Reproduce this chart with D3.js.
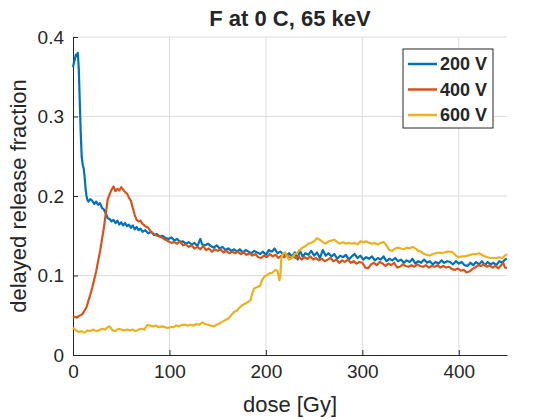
<!DOCTYPE html>
<html>
<head>
<meta charset="utf-8">
<title>F at 0 C, 65 keV</title>
<script src="https://cdn.jsdelivr.net/npm/d3@7"></script>
<style>
  body { margin: 0; background: #fff; }
  svg text { font-family: "Liberation Sans", Arial, Helvetica, sans-serif; fill: #262626; }
</style>
</head>
<body>
<div id="chart"></div>
<script>
// data (dose in Gy, fraction)
var seriesNames = ["200 V", "400 V", "600 V"];
var seriesColors = ["#0072BD", "#D95319", "#EDB120"];

var dose200 = [0,1,2,3,4,5,6,7,8,9,10,11,12,13,14,15,16,18,20,22,24,26,28,30,32,34,36,38,40,42,44,46,48,50,52,54,56,58,60,62,64,66,68,70,72,75,78,81,84,87,90,93,96,99,102,105,108,111,114,117,120,123,126,129,132,134,137,140,143,146,149,152,155,158,161,164,167,170,173,176,179,182,185,188,191,194,197,200,203,206,209,212,215,218,221,224,227,230,233,235,238,241,244,247,250,253,256,259,262,265,268,271,274,277,280,283,286,289,292,295,298,301,304,307,310,313,316,319,322,325,328,331,334,337,340,343,346,349,352,355,358,361,364,367,370,373,376,379,382,385,388,391,394,397,400,403,406,409,412,415,418,421,424,427,430,433,436,439,442,445,448,450];
var frac200 = [0.362,0.368,0.372,0.378,0.376,0.380,0.360,0.320,0.280,0.250,0.240,0.235,0.225,0.210,0.200,0.195,0.193,0.196,0.194,0.190,0.193,0.189,0.191,0.185,0.183,0.178,0.172,0.171,0.168,0.170,0.166,0.169,0.164,0.167,0.163,0.166,0.162,0.164,0.160,0.163,0.158,0.161,0.157,0.159,0.155,0.157,0.153,0.155,0.151,0.152,0.149,0.150,0.147,0.146,0.148,0.144,0.146,0.142,0.143,0.140,0.142,0.139,0.141,0.137,0.146,0.139,0.138,0.140,0.137,0.135,0.138,0.134,0.136,0.132,0.134,0.131,0.133,0.130,0.133,0.129,0.132,0.130,0.128,0.131,0.129,0.127,0.130,0.126,0.132,0.130,0.134,0.128,0.130,0.127,0.125,0.128,0.124,0.129,0.120,0.132,0.124,0.128,0.126,0.131,0.125,0.129,0.122,0.132,0.125,0.128,0.124,0.127,0.121,0.125,0.123,0.126,0.120,0.124,0.127,0.122,0.125,0.120,0.123,0.121,0.124,0.119,0.122,0.120,0.124,0.118,0.121,0.119,0.122,0.118,0.120,0.116,0.119,0.117,0.121,0.115,0.118,0.116,0.120,0.116,0.118,0.114,0.117,0.115,0.119,0.116,0.118,0.117,0.114,0.118,0.115,0.117,0.113,0.112,0.116,0.113,0.117,0.114,0.118,0.113,0.117,0.114,0.116,0.113,0.118,0.116,0.120,0.121];

var dose400 = [0,2,4,6,8,10,12,14,16,18,20,22,24,26,28,30,32,34,36,38,40,42,44,46,48,50,52,54,56,58,60,62,64,66,68,70,72,75,78,81,84,87,90,93,96,99,102,105,108,111,114,117,120,123,126,129,132,135,138,141,144,147,150,153,156,159,162,165,168,171,174,177,180,183,186,189,192,195,198,201,204,207,210,213,216,219,222,225,228,231,234,237,240,243,246,249,252,255,258,261,264,267,270,273,276,279,282,285,288,291,294,297,300,303,306,309,312,315,318,321,324,327,330,333,336,339,342,345,348,351,354,357,360,363,366,369,372,375,378,381,384,387,390,393,396,399,402,405,408,411,414,417,420,423,426,429,432,435,438,441,444,446,448,450];
var frac400 = [0.047,0.048,0.047,0.049,0.050,0.052,0.056,0.060,0.068,0.076,0.085,0.095,0.105,0.118,0.130,0.145,0.160,0.178,0.196,0.202,0.208,0.212,0.206,0.209,0.207,0.211,0.208,0.205,0.203,0.198,0.194,0.185,0.176,0.170,0.168,0.169,0.165,0.162,0.160,0.155,0.152,0.150,0.149,0.147,0.145,0.143,0.141,0.142,0.140,0.143,0.138,0.139,0.136,0.138,0.134,0.136,0.133,0.137,0.132,0.134,0.130,0.133,0.131,0.133,0.129,0.131,0.128,0.130,0.128,0.130,0.127,0.129,0.126,0.128,0.125,0.127,0.123,0.122,0.125,0.123,0.127,0.124,0.126,0.122,0.125,0.123,0.126,0.121,0.124,0.122,0.124,0.120,0.123,0.121,0.124,0.120,0.122,0.119,0.121,0.118,0.120,0.122,0.118,0.120,0.116,0.119,0.117,0.120,0.116,0.118,0.115,0.117,0.116,0.110,0.109,0.114,0.116,0.113,0.117,0.115,0.112,0.115,0.113,0.116,0.110,0.111,0.114,0.112,0.111,0.113,0.111,0.114,0.112,0.111,0.113,0.110,0.112,0.111,0.113,0.110,0.112,0.110,0.111,0.108,0.107,0.109,0.106,0.107,0.104,0.105,0.108,0.110,0.113,0.112,0.114,0.111,0.113,0.110,0.112,0.109,0.113,0.116,0.110,0.109];

var dose600 = [0,3,6,9,12,15,18,21,24,27,30,33,36,38,41,44,47,50,53,56,59,62,65,68,71,74,77,80,83,86,89,92,95,98,101,104,107,110,113,116,119,122,125,128,131,134,137,140,143,146,149,152,155,158,161,164,167,170,173,176,179,182,184,186,188,190,192,194,196,198,200,202,204,206,208,210,212,214,215,216,218,220,222,224,226,228,230,232,235,238,241,244,247,250,253,256,259,262,265,268,271,274,277,280,283,286,289,292,295,298,301,304,307,310,313,316,319,322,325,328,331,334,337,340,343,346,349,352,355,358,361,364,367,370,373,376,379,382,385,388,391,394,397,400,403,406,409,412,415,418,421,424,427,430,433,436,439,442,445,448,450];
var frac600 = [0.034,0.031,0.029,0.030,0.028,0.031,0.030,0.032,0.030,0.031,0.033,0.032,0.035,0.036,0.031,0.030,0.033,0.032,0.031,0.032,0.031,0.032,0.030,0.032,0.033,0.032,0.038,0.037,0.036,0.037,0.035,0.036,0.035,0.034,0.035,0.035,0.037,0.036,0.038,0.038,0.037,0.038,0.037,0.039,0.038,0.041,0.039,0.038,0.037,0.036,0.038,0.040,0.042,0.044,0.046,0.050,0.054,0.056,0.060,0.063,0.065,0.067,0.069,0.078,0.084,0.085,0.086,0.087,0.094,0.098,0.100,0.101,0.103,0.103,0.105,0.107,0.106,0.094,0.100,0.122,0.128,0.129,0.124,0.120,0.121,0.124,0.127,0.128,0.132,0.135,0.137,0.140,0.141,0.143,0.147,0.145,0.142,0.140,0.143,0.144,0.145,0.142,0.140,0.142,0.140,0.141,0.140,0.141,0.139,0.143,0.142,0.143,0.141,0.140,0.141,0.139,0.141,0.142,0.138,0.132,0.131,0.134,0.135,0.134,0.133,0.135,0.134,0.136,0.134,0.131,0.130,0.127,0.126,0.125,0.127,0.128,0.129,0.128,0.129,0.130,0.130,0.129,0.125,0.123,0.124,0.124,0.125,0.126,0.127,0.127,0.128,0.126,0.124,0.123,0.122,0.122,0.122,0.123,0.122,0.125,0.127];

var xTicks = [0, 100, 200, 300, 400];
var yTicks = [0, 0.1, 0.2, 0.3, 0.4];

var width = 560, height = 420;
var margin = { top: 37, right: 53, bottom: 65, left: 73 };

var svg = d3.select("#chart").append("svg")
    .attr("width", width)
    .attr("height", height);

var x = d3.scaleLinear().domain([0, 450]).range([margin.left, width - margin.right]);
var y = d3.scaleLinear().domain([0, 0.4]).range([height - margin.bottom, margin.top]);

// grid
svg.append("g").selectAll("line.vg")
    .data(xTicks.filter(function(d) { return d > 0; }))
    .enter().append("line")
    .attr("x1", function(d) { return x(d); }).attr("x2", function(d) { return x(d); })
    .attr("y1", y(0)).attr("y2", y(0.4))
    .attr("stroke", "#dcdcdc").attr("stroke-width", 1);
svg.append("g").selectAll("line.hg")
    .data(yTicks.filter(function(d) { return d > 0; }))
    .enter().append("line")
    .attr("x1", x(0)).attr("x2", x(450))
    .attr("y1", function(d) { return y(d); }).attr("y2", function(d) { return y(d); })
    .attr("stroke", "#dcdcdc").attr("stroke-width", 1);

// axes (ticks pointing inward, like matlab)
var xAxis = svg.append("g")
    .attr("transform", "translate(0," + y(0) + ")")
    .call(d3.axisBottom(x).tickValues(xTicks).tickSizeInner(-5).tickSizeOuter(0).tickPadding(10));
var yAxis = svg.append("g")
    .attr("transform", "translate(" + x(0) + ",0)")
    .call(d3.axisLeft(y).tickValues(yTicks).tickSizeInner(-5).tickSizeOuter(0).tickPadding(9)
      .tickFormat(function(d) { return d === 0 ? "0" : d3.format(".1f")(d); }));
[xAxis, yAxis].forEach(function(a) {
  a.select(".domain").attr("stroke", "#262626");
  a.selectAll(".tick line").attr("stroke", "#262626");
  a.selectAll(".tick text").attr("font-size", 19).attr("fill", "#262626")
    .attr("font-family", "Liberation Sans, Arial, sans-serif");
});

// lines
var allDose = [dose200, dose400, dose600];
var allFrac = [frac200, frac400, frac600];
var line = d3.line()
    .x(function(d) { return x(d[0]); })
    .y(function(d) { return y(d[1]); });

seriesNames.forEach(function(name, i) {
  var pts = d3.zip(allDose[i], allFrac[i]);
  svg.append("path")
      .datum(pts)
      .attr("fill", "none")
      .attr("stroke", seriesColors[i])
      .attr("stroke-width", 2.2)
      .attr("stroke-linejoin", "round")
      .attr("d", line);
});

// title + labels
svg.append("text")
    .attr("x", x(225)).attr("y", 26)
    .attr("text-anchor", "middle")
    .attr("font-size", 22).attr("font-weight", "bold")
    .attr("fill", "#000")
    .text("F at 0 C, 65 keV");

svg.append("text")
    .attr("x", x(225)).attr("y", 412)
    .attr("text-anchor", "middle")
    .attr("font-size", 22)
    .text("dose [Gy]");

svg.append("text")
    .attr("transform", "translate(26," + y(0.2) + ") rotate(-90)")
    .attr("text-anchor", "middle")
    .attr("font-size", 22)
    .text("delayed release fraction");

// legend
var legend = svg.append("g").attr("transform", "translate(403,49)");
legend.append("rect")
    .attr("width", 90).attr("height", 79)
    .attr("fill", "#fff").attr("stroke", "#262626").attr("stroke-width", 1);
seriesNames.forEach(function(name, i) {
  var ly = 15 + i * 25.5;
  legend.append("line")
      .attr("x1", 5).attr("x2", 34).attr("y1", ly).attr("y2", ly)
      .attr("stroke", seriesColors[i]).attr("stroke-width", 2.5);
  legend.append("text")
      .attr("x", 37).attr("y", ly)
      .attr("dy", "0.36em")
      .attr("font-size", 18).attr("font-weight", "bold")
      .attr("fill", "#000")
      .text(name);
});
</script>
</body>
</html>
